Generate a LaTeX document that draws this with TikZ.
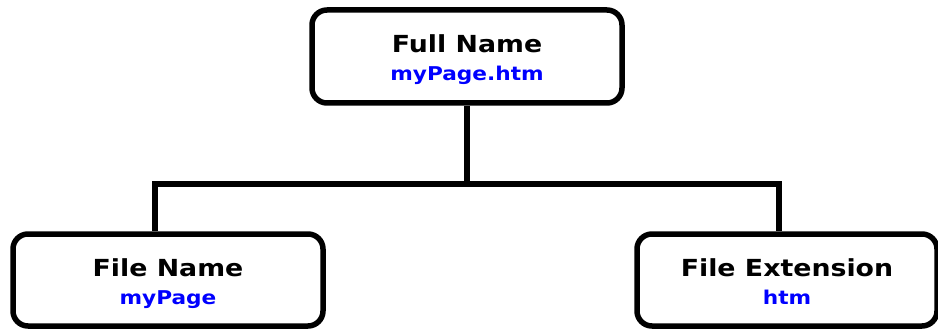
\documentclass[tikz,border=0pt]{standalone}
\usepackage{fontspec}
\setmainfont{DejaVu Sans}[FakeStretch=1.14]
\begin{document}
\begin{tikzpicture}[x=1pt,y=-1pt,
  box/.style={draw=black, line width=5.5pt, rounded corners=15pt, fill=white,
    align=center, inner sep=0pt, text height=53pt, text depth=4pt,
    font=\bfseries\fontsize{23.5}{28}\selectfont},
  sub/.style={},
  conn/.style={draw=black, line width=5.5pt, line join=miter}]
\useasboundingbox (0,0) rectangle (938,329);
\node[box, minimum width=310pt, minimum height=93pt] (top) at (467,56.5)
  {Full Name\\{\color{blue}\fontsize{19}{28}\selectfont myPage.htm}};
\node[box, minimum width=310pt, minimum height=92pt] (left) at (168,280)
  {File Name\\{\color{blue}\fontsize{19}{28}\selectfont myPage}};
\node[box, minimum width=300pt, minimum height=92pt] (right) at (787,280)
  {File Extension\\{\color{blue}\fontsize{19}{28}\selectfont htm}};
\coordinate (bl) at (155,184);
\coordinate (br) at (779,184);
\draw[conn] (bl |- left.north) -- (bl) -- (br) -- (br |- right.north);
\draw[conn] (top.south) -- (top.south |- bl);
\end{tikzpicture}
\end{document}
